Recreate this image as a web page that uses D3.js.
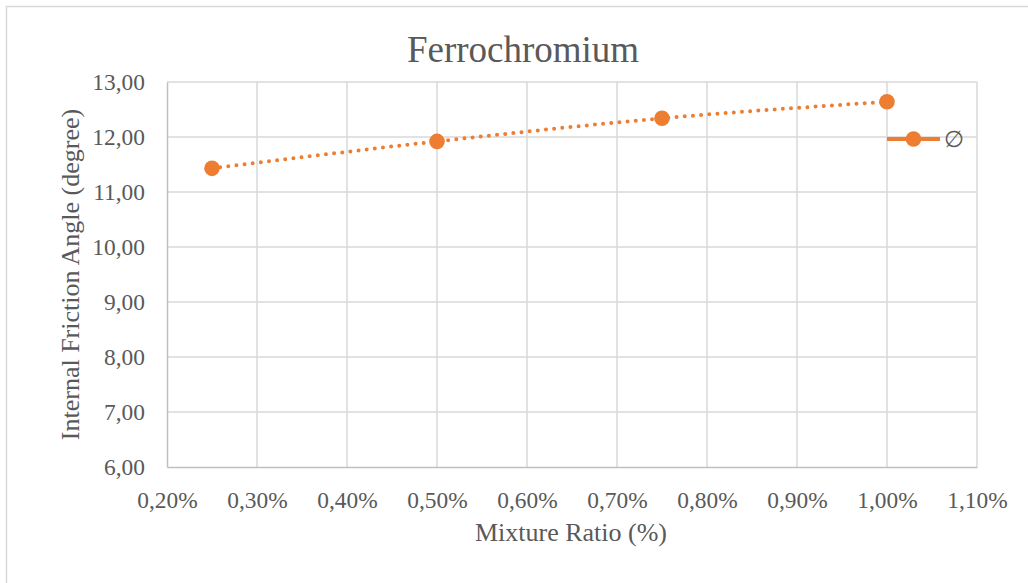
<!DOCTYPE html>
<html>
<head>
<meta charset="utf-8">
<script src="https://cdn.jsdelivr.net/npm/d3@7"></script>
<style>
  html, body { margin: 0; padding: 0; background: #ffffff; }
  svg { display: block; }
</style>
</head>
<body>
<svg id="chart" width="1028" height="583"></svg>
<script>
// Mixture ratio (%) and internal friction angle (degree)
const mixtureRatio = [0.25, 0.50, 0.75, 1.00];
const frictionAngle = [11.43, 11.92, 12.34, 12.64];
const xTicks = [0.2, 0.3, 0.4, 0.5, 0.6, 0.7, 0.8, 0.9, 1.0, 1.1];
const yTicks = [6, 7, 8, 9, 10, 11, 12, 13];
const seriesName = "\u2205";

const W = 1028, H = 583;
const margin = { left: 167, right: 1028 - 977, top: 82, bottom: 583 - 467 };
const orange = "#ed7d31";
const textColor = "#595959";
const serif = "'Liberation Serif', 'Times New Roman', serif";

const svg = d3.select("#chart");

// Chart-area frame
svg.append("rect")
  .attr("x", 6.5).attr("y", 6.5)
  .attr("width", W + 20).attr("height", H + 20)
  .attr("fill", "#ffffff")
  .attr("stroke", "#d9d9d9").attr("stroke-width", 1.5);

const x = d3.scaleLinear().domain([0.2, 1.1]).range([margin.left, W - margin.right]);
const y = d3.scaleLinear().domain([6, 13]).range([H - margin.bottom, margin.top]);

const fmt = d3.formatLocale({ decimal: ",", thousands: ".", grouping: [3], currency: ["", ""] });
const fmtY = fmt.format(".2f");
const fmtX = v => fmt.format(".2f")(v) + "%";

// Gridlines
const grid = svg.append("g");
grid.selectAll("line.h").data(yTicks.slice(1)).join("line")
  .attr("x1", x(0.2)).attr("x2", x(1.1))
  .attr("y1", d => y(d)).attr("y2", d => y(d))
  .attr("stroke", "#d9d9d9").attr("stroke-width", 1.5);
grid.selectAll("line.v").data(xTicks.slice(1)).join("line")
  .attr("x1", d => x(d)).attr("x2", d => x(d))
  .attr("y1", y(6)).attr("y2", y(13))
  .attr("stroke", "#d9d9d9").attr("stroke-width", 1.5);

// Axes
const xAxis = svg.append("g")
  .attr("transform", `translate(0,${y(6)})`)
  .call(d3.axisBottom(x).tickValues(xTicks).tickFormat(fmtX).tickSize(0).tickPadding(24));
const yAxis = svg.append("g")
  .attr("transform", `translate(${x(0.2)},0)`)
  .call(d3.axisLeft(y).tickValues(yTicks).tickFormat(fmtY).tickSize(0).tickPadding(22));

[xAxis, yAxis].forEach(a => {
  a.select(".domain").attr("stroke", "#bfbfbf").attr("stroke-width", 1.5);
  a.selectAll("text")
    .attr("font-family", serif).attr("font-size", 23.4)
    .attr("fill", textColor);
});

// Series: dotted line with markers
const line = d3.line()
  .x((d, i) => x(mixtureRatio[i]))
  .y(d => y(d))
  .curve(d3.curveMonotoneX);

svg.append("path")
  .datum(frictionAngle)
  .attr("d", line)
  .attr("fill", "none")
  .attr("stroke", orange)
  .attr("stroke-width", 4)
  .attr("stroke-linecap", "round")
  .attr("stroke-dasharray", "0,8.2");

svg.selectAll("circle.pt").data(frictionAngle).join("circle")
  .attr("class", "pt")
  .attr("cx", (d, i) => x(mixtureRatio[i]))
  .attr("cy", d => y(d))
  .attr("r", 7.8)
  .attr("fill", orange);

// Title
svg.append("text")
  .attr("x", 523).attr("y", 62)
  .attr("text-anchor", "middle")
  .attr("font-family", serif).attr("font-size", 37)
  .attr("fill", textColor)
  .text("Ferrochromium");

// Axis titles
svg.append("text")
  .attr("x", 571).attr("y", 541)
  .attr("text-anchor", "middle")
  .attr("font-family", serif).attr("font-size", 26)
  .attr("fill", textColor)
  .text("Mixture Ratio (%)");

svg.append("text")
  .attr("transform", `translate(79,${(y(6) + y(13)) / 2}) rotate(-90)`)
  .attr("text-anchor", "middle")
  .attr("font-family", serif).attr("font-size", 26)
  .attr("fill", textColor)
  .text("Internal Friction Angle (degree)");

// Legend
const legend = svg.append("g").attr("transform", "translate(887,139)");
legend.append("line")
  .attr("x1", 0).attr("x2", 53).attr("y1", 0).attr("y2", 0)
  .attr("stroke", orange).attr("stroke-width", 4);
legend.append("circle")
  .attr("cx", 26.5).attr("cy", 0).attr("r", 7.8)
  .attr("fill", orange);
legend.append("text")
  .attr("x", 57).attr("y", 0).attr("dy", "0.36em")
  .attr("font-family", serif).attr("font-size", 23.4)
  .attr("fill", textColor)
  .text(seriesName);
</script>
</body>
</html>
